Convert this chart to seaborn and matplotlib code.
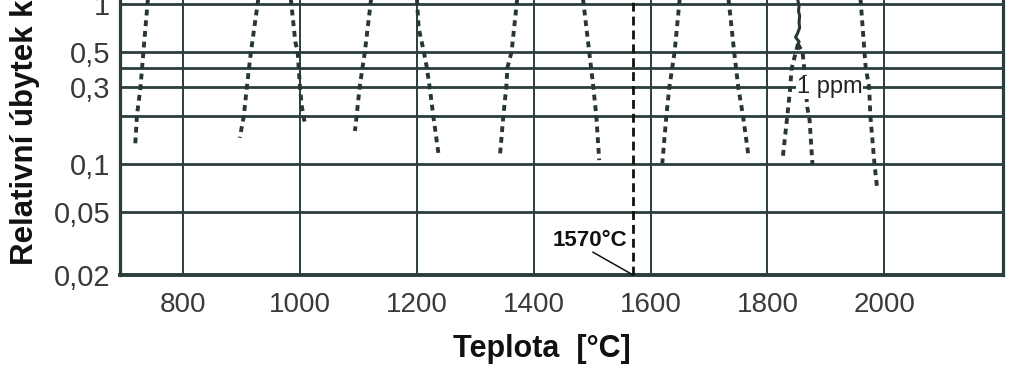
import numpy as np
import pandas as pd
import matplotlib
matplotlib.use("Agg")
import matplotlib.pyplot as plt
from matplotlib.ticker import NullFormatter
import seaborn as sns

# ---------------- data ----------------
x_ticks = [800, 1000, 1200, 1400, 1600, 1800, 2000]
x_tick_labels = ["800", "1000", "1200", "1400", "1600", "1800", "2000"]
y_ticks = [0.02, 0.05, 0.1, 0.3, 0.5, 1]
y_tick_labels = ["0,02", "0,05", "0,1", "0,3", "0,5", "1"]
y_minor_grid = [0.2, 0.4]

c1_T = [740, 732, 727, 721, 718]
c1_v = [1.1, 0.5, 0.3, 0.2, 0.13]
c2_T = [929, 916, 909, 904, 897]
c2_v = [1.1, 0.5, 0.3, 0.2, 0.145]
c3_T = [984, 992, 996, 1000, 1003, 1008]
c3_v = [1.1, 0.58, 0.5, 0.3, 0.23, 0.18]
c4_T = [1122, 1111, 1107, 1102, 1097, 1094]
c4_v = [1.1, 0.5, 0.4, 0.3, 0.2, 0.16]
c5_T = [1200, 1203, 1212, 1217, 1222, 1228, 1237]
c5_v = [1.1, 0.71, 0.5, 0.4, 0.3, 0.2, 0.115]
c6_T = [1372, 1362, 1355, 1353, 1348, 1342]
c6_v = [1.1, 0.5, 0.4, 0.3, 0.2, 0.11]
c7_T = [1484, 1495, 1502, 1507, 1512]
c7_v = [1.1, 0.5, 0.3, 0.2, 0.105]
c8_T = [1650, 1641, 1632, 1627, 1620]
c8_v = [1.1, 0.5, 0.3, 0.2, 0.1]
c9_T = [1733, 1743, 1750, 1758, 1768]
c9_v = [1.1, 0.5, 0.3, 0.2, 0.108]
c10_left_T = [1852, 1846, 1841, 1839, 1834, 1826]
c10_left_v = [0.56, 0.46, 0.39, 0.3, 0.2, 0.108]
c10_right_T = [1852, 1860, 1863, 1868, 1872, 1877]
c10_right_v = [0.56, 0.5, 0.39, 0.226, 0.188, 0.098]
c11_T = [1959, 1966, 1968, 1974, 1976, 1983, 1988]
c11_v = [1.1, 0.5, 0.4, 0.3, 0.2, 0.1, 0.068]
wiggle_T = [1851, 1854, 1853, 1855, 1854, 1855, 1851, 1848, 1854, 1852]
wiggle_v = [1.1, 0.97, 0.91, 0.84, 0.77, 0.71, 0.65, 0.62, 0.58, 0.56]

melt_T = 1570
ppm_T, ppm_v = 1906, 0.3

dotted_curves = [
    (c1_T, c1_v), (c2_T, c2_v), (c3_T, c3_v), (c4_T, c4_v), (c5_T, c5_v),
    (c6_T, c6_v), (c7_T, c7_v), (c8_T, c8_v), (c9_T, c9_v),
    (c10_left_T, c10_left_v), (c10_right_T, c10_right_v), (c11_T, c11_v),
]

# ---------------- style ----------------
sns.set_theme(style="white")
plt.rcParams["font.family"] = ["Liberation Sans", "DejaVu Sans"]

grid_col = "#2b3d3d"
curve_col = "#283636"
tick_col = "#3a3a3a"

fig = plt.figure(figsize=(10.24, 3.69), dpi=100)
ax = fig.add_axes([120 / 1024, 1 - 275 / 369, 883 / 1024, 275 / 369])

for T, v in dotted_curves:
    df = pd.DataFrame({"T": T, "v": v})
    sns.lineplot(data=df, x="T", y="v", sort=False, estimator=None, ax=ax,
                 color=curve_col, lw=2.8, linestyle=(0, (1.5, 1.25)),
                 solid_capstyle="butt", zorder=3)

dfw = pd.DataFrame({"T": wiggle_T, "v": wiggle_v})
sns.lineplot(data=dfw, x="T", y="v", sort=False, estimator=None, ax=ax,
             color=curve_col, lw=2.2, zorder=3)

# melting point marker
ax.axvline(melt_T, color="#111111", lw=2.0, linestyle=(0, (3.2, 1.8)), zorder=4)
ax.annotate("", xy=(melt_T, 0.02), xytext=(-29, 16.5), textcoords="offset points",
            arrowprops=dict(arrowstyle="-", lw=1.1, color="#111111",
                            shrinkA=0, shrinkB=0), zorder=4)
ax.annotate(f"{melt_T}°C", xy=(melt_T, 0.02), xytext=(-4, 25), textcoords="offset points",
            ha="right", va="center", fontsize=16, fontweight="bold", color="#111111",
            zorder=5)

ax.text(ppm_T, ppm_v, "1 ppm", ha="center", va="center", fontsize=17, color="#222222",
        zorder=5, bbox=dict(fc="white", ec="none", pad=0.5))

# ---------------- axes ----------------
ax.set_yscale("log")
ax.set_xlim(692, 2203)
ax.set_ylim(0.02, 1.06)
ax.set_xticks(x_ticks)
ax.set_xticklabels(x_tick_labels)
ax.set_yticks(y_ticks)
ax.set_yticklabels(y_tick_labels)
ax.set_yticks(y_minor_grid, minor=True)
ax.yaxis.set_minor_formatter(NullFormatter())
ax.tick_params(which="both", length=0)
ax.tick_params(axis="x", labelsize=20, pad=12, labelcolor=tick_col)
ax.tick_params(axis="y", labelsize=21, pad=7, labelcolor=tick_col)

ax.set_axisbelow(True)
ax.grid(axis="y", which="both", color=grid_col, lw=2.0)
ax.grid(axis="x", which="major", color=grid_col, lw=1.4)
ax.grid(axis="x", which="minor", visible=False)

for side in ["left", "right", "bottom"]:
    ax.spines[side].set_visible(True)
    ax.spines[side].set_color(grid_col)
    ax.spines[side].set_linewidth(2.3)
ax.spines["bottom"].set_linewidth(2.8)
ax.spines["top"].set_visible(False)
ax.set_xlabel("")
ax.set_ylabel("")

fig.text(542 / 1024, 1 - 357 / 369, "Teplota  [°C]", ha="center", va="baseline",
         fontsize=22, fontweight="bold", color="#111111")
fig.text(33 / 1024, 1 - 265 / 369, "Relativní úbytek k", rotation=90,
         rotation_mode="anchor", ha="left", va="baseline",
         fontsize=22.5, fontweight="bold", color="#111111")

fig.savefig("out.png", dpi=100, facecolor="white")
